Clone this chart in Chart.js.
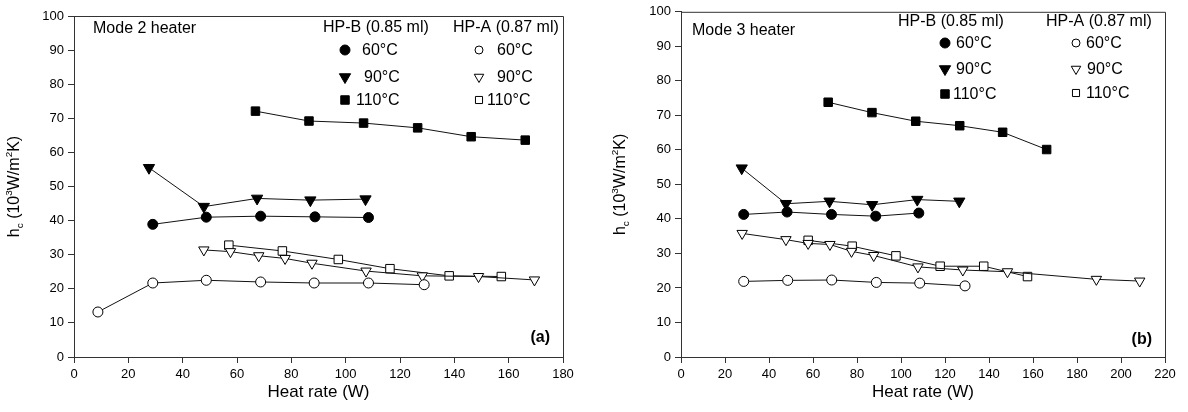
<!DOCTYPE html>
<html>
<head>
<meta charset="utf-8">
<script src="https://cdn.jsdelivr.net/npm/chart.js@4.4.1/dist/chart.umd.min.js"></script>
<style>
html,body{margin:0;padding:0;background:#fff;}
#wrap{position:relative;width:1188px;height:412px;overflow:hidden;}
.cv{position:absolute;top:0;}
</style>
</head>
<body>
<div id="wrap">
<canvas id="ca" class="cv" width="594" height="412" style="left:0px"></canvas>
<canvas id="cb" class="cv" width="594" height="412" style="left:594px"></canvas>
</div>
<script>
// ---------- Data (a) Mode 2 heater ----------
const aXTicks = [0, 20, 40, 60, 80, 100, 120, 140, 160, 180];
const aB60x  = [29, 48.7, 68.7, 88.7, 108.4];
const aB60y  = [38.9, 41.0, 41.3, 41.1, 40.9];
const aB90x  = [27.6, 47.8, 67.4, 87, 107.3];
const aB90y  = [55.5, 44.1, 46.5, 46.0, 46.3];
const aB110x = [66.8, 86.5, 106.6, 126.5, 146.2, 166.1];
const aB110y = [72.1, 69.2, 68.6, 67.2, 64.6, 63.6];
const aA60x  = [8.8, 29, 48.7, 68.7, 88.4, 108.4, 128.9];
const aA60y  = [13.2, 21.7, 22.5, 22.0, 21.7, 21.7, 21.2];
const aA90x  = [47.8, 57.6, 68, 77.7, 87.6, 107.5, 128.2, 148.9, 169.5];
const aA90y  = [31.4, 30.9, 29.7, 28.9, 27.5, 25.2, 23.8, 23.6, 22.6];
const aA110x = [57, 76.7, 97.3, 116.3, 138.1, 157.3];
const aA110y = [32.8, 31.1, 28.6, 25.9, 23.8, 23.6];

// ---------- Data (b) Mode 3 heater ----------
const bXTicks = [0, 20, 40, 60, 80, 100, 120, 140, 160, 180, 200, 220];
const bB60x  = [28.5, 48.2, 68.4, 88.5, 108.1];
const bB60y  = [41.3, 42.0, 41.3, 40.8, 41.7];
const bB90x  = [27.6, 47.7, 67.5, 86.9, 107.4, 126.5];
const bB90y  = [54.7, 44.4, 45.1, 44.1, 45.6, 45.1];
const bB110x = [66.9, 86.8, 106.7, 126.7, 146.2, 166.2];
const bB110y = [73.8, 70.8, 68.3, 67.0, 65.1, 60.1];
const bA60x  = [28.5, 48.5, 68.5, 88.8, 108.5, 129.1];
const bA60y  = [21.9, 22.2, 22.3, 21.6, 21.4, 20.6];
const bA90x  = [27.8, 47.7, 57.8, 67.7, 77.5, 87.6, 107.7, 128.1, 148.4, 188.8, 208.5];
const bA90y  = [35.8, 34.0, 32.9, 32.6, 30.6, 29.4, 26.1, 25.2, 24.7, 22.5, 22.0];
const bA110x = [57.8, 77.8, 97.7, 117.8, 137.6, 157.5];
const bA110y = [33.8, 32.1, 29.3, 26.3, 26.3, 23.3];

const yTicks = [0, 10, 20, 30, 40, 50, 60, 70, 80, 90, 100];
const seriesLabels = ['60°C', '90°C', '110°C'];
const groupLabels = ['HP-B (0.85 ml)', 'HP-A (0.87 ml)'];

const FONT = "'Liberation Sans', Arial, Helvetica, sans-serif";
const pts = (xs, ys) => xs.map((x, i) => ({x: x, y: ys[i]}));

function ds(xs, ys, style, filled, rot, r) {
  return {
    data: pts(xs, ys), showLine: true, borderColor: '#111', borderWidth: 1,
    pointStyle: style, pointRotation: rot || 0, pointRadius: r,
    pointBorderColor: '#000', pointBorderWidth: 1,
    pointBackgroundColor: filled ? '#000' : '#fff', tension: 0
  };
}

function marker(ctx, style, filled, x, y, r) {
  ctx.save();
  ctx.beginPath();
  if (style === 'circle') {
    ctx.arc(x, y, r, 0, Math.PI * 2);
  } else if (style === 'rect') {
    const s = r * Math.SQRT1_2;
    ctx.rect(x - s, y - s, 2 * s, 2 * s);
  } else {
    ctx.moveTo(x, y + r);
    ctx.lineTo(x + r * Math.sin(Math.PI / 3), y - r * 0.5);
    ctx.lineTo(x - r * Math.sin(Math.PI / 3), y - r * 0.5);
    ctx.closePath();
  }
  ctx.fillStyle = filled ? '#000' : '#fff';
  ctx.fill();
  ctx.strokeStyle = '#000';
  ctx.lineWidth = 1;
  ctx.stroke();
  ctx.restore();
}

function richWidth(ctx, parts, size) {
  let w = 0;
  parts.forEach(p => {
    const s = p[1] === 'n' ? size : size * 0.62;
    ctx.font = s + 'px ' + FONT;
    w += ctx.measureText(p[0]).width;
  });
  return w;
}
function drawRich(ctx, parts, x, y, size) {
  let cx = x;
  parts.forEach(p => {
    const s = p[1] === 'n' ? size : size * 0.62;
    ctx.font = s + 'px ' + FONT;
    let dy = 0;
    if (p[1] === 'sup') dy = -size * 0.38;
    if (p[1] === 'sub') dy = size * 0.3;
    ctx.fillText(p[0], cx, y + dy);
    cx += ctx.measureText(p[0]).width;
  });
}
const yTitleParts = [['h', 'n'], ['c', 'sub'], [' (10', 'n'], ['3', 'sup'], ['W/m', 'n'], ['2', 'sup'], ['K)', 'n']];

const deco = {
  id: 'deco',
  afterDraw(chart) {
    const o = chart.options.plugins.deco;
    const ctx = chart.ctx;
    const a = chart.chartArea;
    ctx.save();
    ctx.strokeStyle = '#333';
    ctx.lineWidth = 1;
    ctx.beginPath();
    ctx.moveTo(a.left, a.top + 0.5);
    ctx.lineTo(a.right + 0.5, a.top + 0.5);
    ctx.lineTo(a.right + 0.5, a.bottom);
    ctx.stroke();

    ctx.fillStyle = '#000';
    ctx.textBaseline = 'middle';
    ctx.textAlign = 'left';
    ctx.font = '16px ' + FONT;
    ctx.fillText(o.mode, o.modeX, o.modeY);
    ctx.fillText(groupLabels[0], o.hdrBX, o.hdrY);
    ctx.fillText(groupLabels[1], o.hdrAX, o.hdrY);
    const styles = ['circle', 'tri', 'rect'];
    const rB = [5, 6.5, 6];
    const rA = [4, 5.5, 5];
    for (let i = 0; i < 3; i++) {
      marker(ctx, styles[i], true, o.mkBX, o.rowsB[i], rB[i]);
      ctx.font = '16px ' + FONT;
      ctx.fillStyle = '#000';
      ctx.fillText(seriesLabels[i], o.txtBX[i], o.rowsB[i] + 1);
      marker(ctx, styles[i], false, o.mkAX, o.rowsA[i], rA[i]);
      ctx.font = '16px ' + FONT;
      ctx.fillStyle = '#000';
      ctx.fillText(seriesLabels[i], o.txtAX[i], o.rowsA[i] + 1);
    }
    ctx.font = 'bold 16px ' + FONT;
    ctx.textAlign = 'right';
    ctx.fillText(o.tag, o.tagX, o.tagY);
    ctx.font = '17px ' + FONT;
    ctx.textAlign = 'center';
    ctx.fillText('Heat rate (W)', (a.left + a.right) / 2, o.xTitleY);
    ctx.save();
    ctx.translate(o.yTitleX, (a.top + a.bottom) / 2);
    ctx.rotate(-Math.PI / 2);
    ctx.textAlign = 'left';
    const w = richWidth(ctx, yTitleParts, 16);
    drawRich(ctx, yTitleParts, -w / 2, 0, 16);
    ctx.restore();
    ctx.restore();
  }
};

function makeChart(id, xmax, xt, sets, pad, yW, decoOpts) {
  return new Chart(document.getElementById(id), {
    type: 'scatter',
    data: {datasets: sets},
    options: {
      responsive: false, animation: false, devicePixelRatio: 1,
      layout: {padding: pad},
      plugins: {legend: {display: false}, tooltip: {enabled: false}, deco: decoOpts},
      scales: {
        x: {
          type: 'linear', min: 0, max: xmax,
          afterBuildTicks: s => { s.ticks = xt.map(v => ({value: v})); },
          afterFit: s => { s.height = 55; },
          ticks: {color: '#000', font: {family: FONT, size: 13}, padding: 4, maxRotation: 0, autoSkip: false},
          grid: {drawOnChartArea: false, drawTicks: true, tickLength: 6, color: '#333'},
          border: {color: '#333', width: 1}
        },
        y: {
          type: 'linear', min: 0, max: 100,
          afterBuildTicks: s => { s.ticks = yTicks.map(v => ({value: v})); },
          afterFit: s => { s.width = yW; },
          ticks: {color: '#000', font: {family: FONT, size: 13}, padding: 4, autoSkip: false},
          grid: {drawOnChartArea: false, drawTicks: true, tickLength: 6, color: '#333'},
          border: {color: '#333', width: 1}
        }
      }
    },
    plugins: [deco]
  });
}

makeChart('ca', 180, aXTicks, [
  ds(aA60x, aA60y, 'circle', false, 0, 5),
  ds(aA90x, aA90y, 'triangle', false, 180, 6),
  ds(aA110x, aA110y, 'rect', false, 0, 6),
  ds(aB60x, aB60y, 'circle', true, 0, 5),
  ds(aB90x, aB90y, 'triangle', true, 180, 6.5),
  ds(aB110x, aB110y, 'rect', true, 0, 6)
], {left: 0, right: 31, top: 16, bottom: 0}, 74, {
  mode: 'Mode 2 heater', modeX: 93, modeY: 29,
  hdrBX: 323, hdrAX: 453, hdrY: 28,
  mkBX: 345, rowsB: [50, 77, 100], txtBX: [362, 364, 356],
  mkAX: 479, rowsA: [50, 77, 100], txtAX: [497, 497, 487],
  tag: '(a)', tagX: 550, tagY: 338,
  xTitleY: 392, yTitleX: 15
});

makeChart('cb', 220, bXTicks, [
  ds(bA60x, bA60y, 'circle', false, 0, 5),
  ds(bA90x, bA90y, 'triangle', false, 180, 6),
  ds(bA110x, bA110y, 'rect', false, 0, 6),
  ds(bB60x, bB60y, 'circle', true, 0, 5),
  ds(bB90x, bB90y, 'triangle', true, 180, 6.5),
  ds(bB110x, bB110y, 'rect', true, 0, 6)
], {left: 0, right: 23, top: 10.5, bottom: 0}, 87, {
  mode: 'Mode 3 heater', modeX: 98, modeY: 31,
  hdrBX: 304, hdrAX: 452, hdrY: 22,
  mkBX: 351, rowsB: [43, 69, 94], txtBX: [362, 362, 359],
  mkAX: 482, rowsA: [43, 69, 93], txtAX: [492, 493, 492],
  tag: '(b)', tagX: 558, tagY: 340,
  xTitleY: 392, yTitleX: 27
});
</script>
</body>
</html>
